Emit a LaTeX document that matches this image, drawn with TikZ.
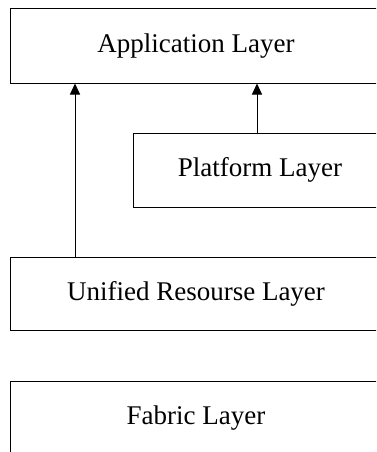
\documentclass[tikz,border=0pt]{standalone}
\usepackage{fontspec}
\setmainfont{Liberation Serif}
\usetikzlibrary{arrows.meta}

\tikzset{
  layerbox/.style={draw, line width=1pt, rectangle, inner sep=0pt,
    font=\fontsize{27}{32}\selectfont},
  uparrow/.style={line width=1pt, -{Triangle[length=11pt,width=10pt]}}
}

\begin{document}
\begin{tikzpicture}[x=1pt,y=1pt,yscale=-1]
\useasboundingbox (0,0) rectangle (376,452);
\clip (0,0) rectangle (376,452);

%Layers
\node[layerbox, minimum width=372, minimum height=74] (app) at (196,46) {Application Layer};
\node[layerbox, minimum width=254, minimum height=74] (plat) at (260,170) {Platform Layer};
\node[layerbox, minimum width=372, minimum height=73] (uni) at (196,293.5) {Unified Resourse Layer};
\node[layerbox, minimum width=372, minimum height=74] (fab) at (196,418) {Fabric Layer};

%Arrows
\coordinate (ua) at (75,257);
\coordinate (pa) at (257,133);
\draw[uparrow] (ua) -- (ua |- app.south);
\draw[uparrow] (pa) -- (pa |- app.south);

\end{tikzpicture}
\end{document}
